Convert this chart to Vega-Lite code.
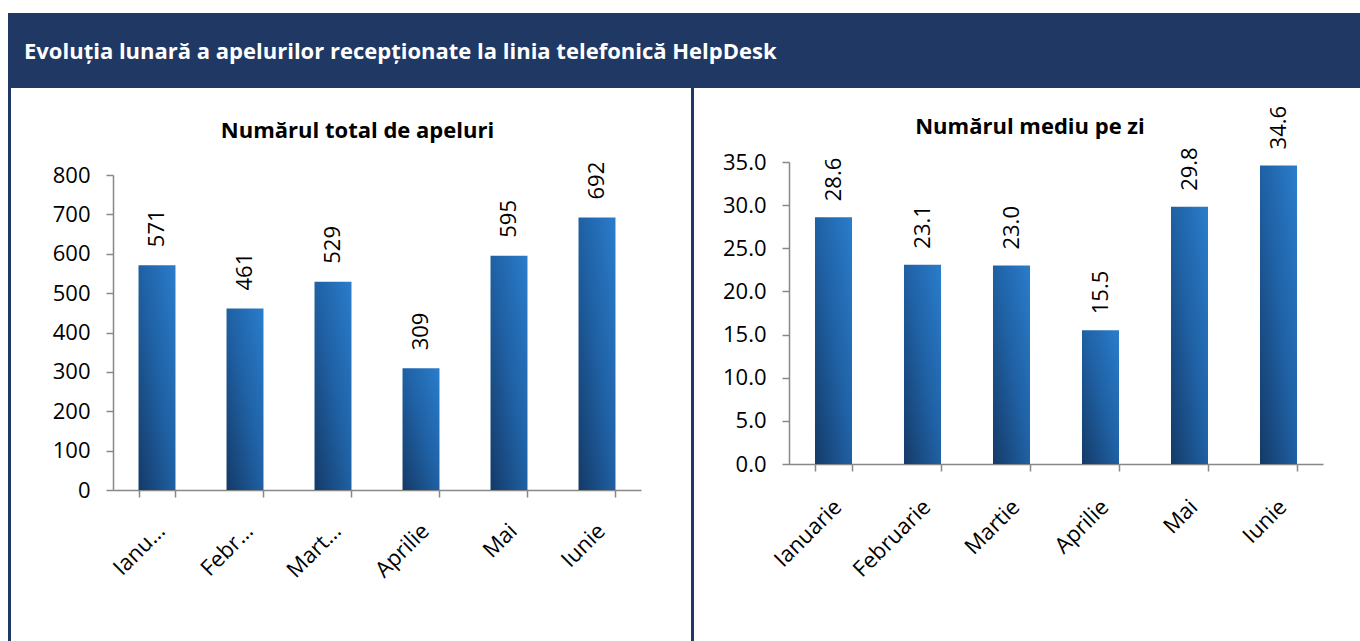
{
  "$schema": "https://vega.github.io/schema/vega-lite/v6.json",
  "padding": {"left": 8, "top": 13, "right": 0, "bottom": 0},
  "background": "white",
  "config": {
    "font": "Open Sans",
    "view": {"stroke": null},
    "axis": {"labelColor": "#000", "domainColor": "#888", "tickColor": "#888", "domainWidth": 1.5, "tickWidth": 1.5, "grid": false, "title": null, "labelFontSize": 22}
  },
  "datasets": {
    "apeluri": [
      {"luna": "Ianuarie", "total": 571, "mediu": 28.6},
      {"luna": "Februarie", "total": 461, "mediu": 23.1},
      {"luna": "Martie", "total": 529, "mediu": 23.0},
      {"luna": "Aprilie", "total": 309, "mediu": 15.5},
      {"luna": "Mai", "total": 595, "mediu": 29.8},
      {"luna": "Iunie", "total": 692, "mediu": 34.6}
    ],
    "antet": [
      {"titlu": "Evoluția lunară a apelurilor recepționate la linia telefonică HelpDesk"}
    ]
  },
  "spacing": 0,
  "vconcat": [
    {
      "width": 1352,
      "height": 75,
      "view": {"fill": "#203864", "stroke": null},
      "data": {"name": "antet"},
      "mark": {"type": "text", "align": "left", "baseline": "middle", "dx": 16, "dy": 1, "color": "white", "font": "Open Sans", "fontWeight": "bold", "fontSize": 22},
      "encoding": {
        "x": {"datum": 0, "type": "quantitative", "scale": {"domain": [0, 1]}, "axis": null},
        "text": {"field": "titlu", "type": "nominal"}
      }
    },
    {
      "spacing": 20,
      "hconcat": [
        {
          "width": 3, "height": 560,
          "data": {"values": []},
          "mark": "point",
          "encoding": {},
          "view": {"fill": "#203864", "stroke": null}
        },
        {
          "width": 528,
          "height": 402,
          "data": {"name": "apeluri"},
          "title": {"text": "Numărul total de apeluri", "fontSize": 22, "fontWeight": "bold", "offset": -77, "dx": -19.5, "anchor": "middle", "frame": "group", "baseline": "bottom", "color": "#000"},
          "encoding": {
            "x": {
              "field": "luna", "type": "nominal", "sort": null,
              "scale": {"paddingInner": 0.58, "paddingOuter": 0.29},
              "axis": {
                "labelAngle": -45, "labelAlign": "right", "labelBaseline": "middle",
                "labelPadding": 30, "labelOffset": 4, "tickBand": "extent", "tickSize": 7,
                "labelLimit": 300,
                "labelExpr": "datum.label == 'Ianuarie' ? 'Ianu…' : datum.label == 'Februarie' ? 'Febr…' : datum.label == 'Martie' ? 'Mart…' : datum.label"
              }
            },
            "y": {
              "field": "total", "type": "quantitative",
              "scale": {"domain": [0, 800], "nice": false, "range": [402, 87]},
              "axis": {"values": [0, 100, 200, 300, 400, 500, 600, 700, 800], "format": "d", "tickSize": 7, "labelPadding": 16, "minExtent": 82}
            }
          },
          "layer": [
            {
              "mark": {"type": "bar", "color": {"gradient": "linear", "x1": 0, "y1": 1, "x2": 1, "y2": 0, "stops": [{"offset": 0, "color": "#143a67"}, {"offset": 0.5, "color": "#1f60a3"}, {"offset": 1, "color": "#2a7dcc"}]}}
            },
            {
              "mark": {"type": "text", "angle": -90, "align": "left", "baseline": "middle", "dx": 18, "fontSize": 22, "color": "#000"},
              "encoding": {"text": {"field": "total", "type": "quantitative", "format": "d"}}
            }
          ]
        },
        {
          "width": 10, "height": 1,
          "data": {"values": []},
          "mark": "point",
          "encoding": {}
        },
        {
          "width": 3, "height": 560,
          "data": {"values": []},
          "mark": "point",
          "encoding": {},
          "view": {"fill": "#203864", "stroke": null}
        },
        {
          "width": 534,
          "height": 376,
          "data": {"name": "apeluri"},
          "title": {"text": "Numărul mediu pe zi", "fontSize": 22, "fontWeight": "bold", "offset": -72.5, "dx": -26, "anchor": "middle", "frame": "group", "baseline": "bottom", "color": "#000"},
          "encoding": {
            "x": {
              "field": "luna", "type": "nominal", "sort": null,
              "scale": {"paddingInner": 0.584, "paddingOuter": 0.292},
              "axis": {
                "labelAngle": -45, "labelAlign": "right", "labelBaseline": "middle",
                "labelPadding": 32, "labelOffset": 4, "tickBand": "extent", "tickSize": 7,
                "labelLimit": 300
              }
            },
            "y": {
              "field": "mediu", "type": "quantitative",
              "scale": {"domain": [0, 35], "nice": false, "range": [376, 74]},
              "axis": {"values": [0, 5, 10, 15, 20, 25, 30, 35], "format": ".1f", "tickSize": 7, "labelPadding": 16, "minExtent": 75}
            }
          },
          "layer": [
            {
              "mark": {"type": "bar", "color": {"gradient": "linear", "x1": 0, "y1": 1, "x2": 1, "y2": 0, "stops": [{"offset": 0, "color": "#143a67"}, {"offset": 0.5, "color": "#1f60a3"}, {"offset": 1, "color": "#2a7dcc"}]}}
            },
            {
              "mark": {"type": "text", "angle": -90, "align": "left", "baseline": "middle", "dx": 16, "fontSize": 22, "color": "#000"},
              "encoding": {"text": {"field": "mediu", "type": "quantitative", "format": ".1f"}}
            }
          ]
        }
      ]
    }
  ]
}
